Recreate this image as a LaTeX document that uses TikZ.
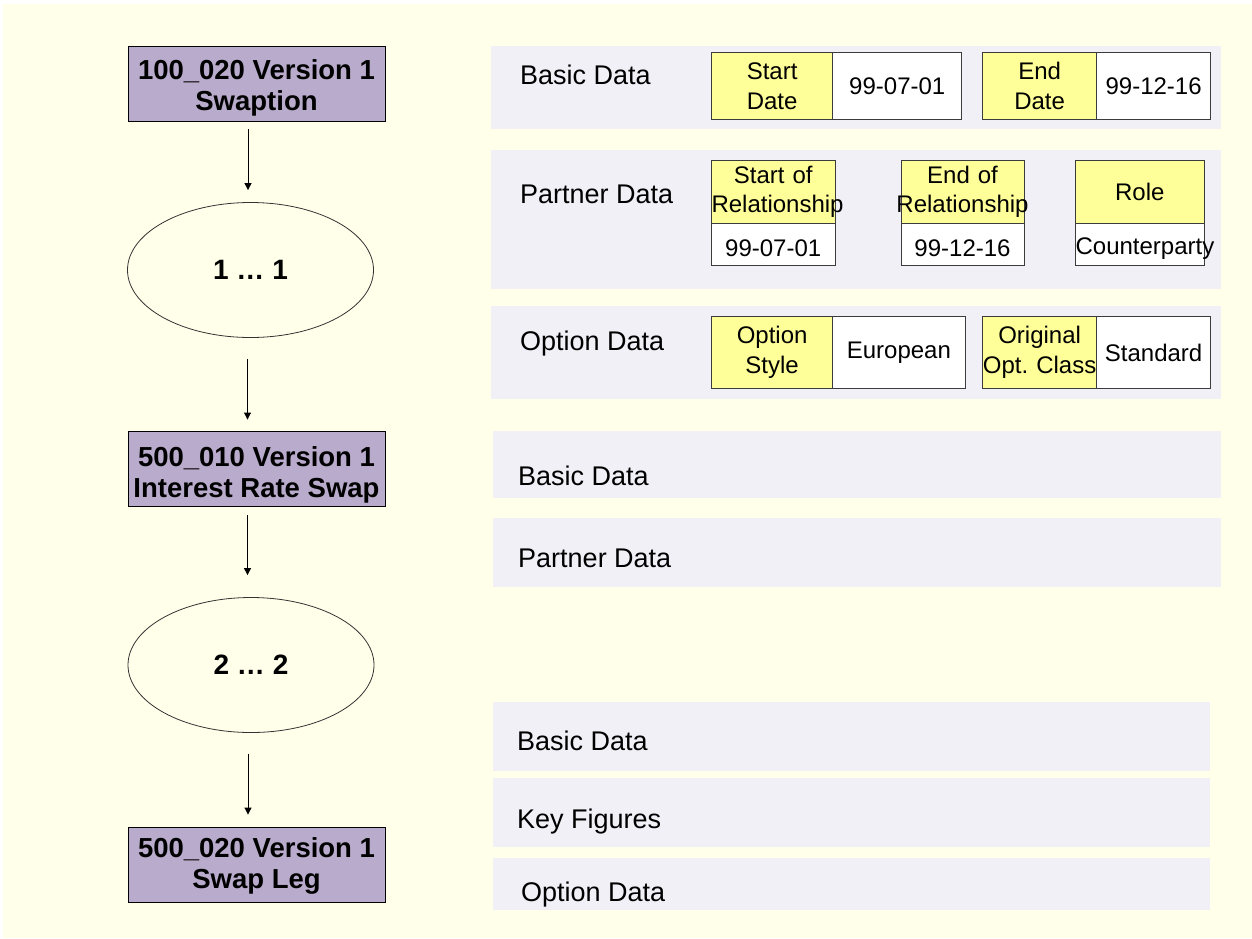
\documentclass[tikz,border=0pt]{standalone}
\usepackage{fontspec}
\setmainfont{Liberation Sans}
\usetikzlibrary{arrows.meta,shapes.geometric}
\definecolor{bgcream}{RGB}{255,255,234}
\definecolor{panelgray}{RGB}{242,240,247}
\definecolor{boxpurple}{RGB}{185,171,203}
\definecolor{cellyellow}{RGB}{255,255,153}
\definecolor{cellborder}{RGB}{60,60,60}
\newcommand{\downby}[1]{\rule{0pt}{\dimexpr 0.75em+#1\relax}}
\tikzset{
  objbox/.style={draw=black, line width=0.9pt, fill=boxpurple, minimum width=257pt, minimum height=75pt, inner sep=0pt, align=center, font=\fontsize{27.5}{31}\selectfont\bfseries},
  relnode/.style={ellipse, draw=black!80, line width=0.8pt, fill=bgcream, minimum width=246pt, minimum height=135pt, inner sep=0pt, font=\fontsize{28}{30}\selectfont\bfseries},
  flowarrow/.style={draw=black, line width=0.9pt, -{Triangle[length=7pt,width=7pt]}},
  panel/.style={fill=panelgray, draw=none},
  panellabel/.style={anchor=base west, inner sep=0pt, font=\fontsize{27}{30}\selectfont},
  ycell/.style={draw=cellborder, line width=0.9pt, fill=cellyellow, inner sep=0pt, align=center, font=\fontsize{24}{29.5}\selectfont},
  wcell/.style={draw=cellborder, line width=0.9pt, fill=white, inner sep=0pt, align=center, font=\fontsize{24}{29.5}\selectfont}
}
\begin{document}
\begin{tikzpicture}[x=1pt,y=-1pt]
\useasboundingbox (0,0) rectangle (1252,938);
\fill[white] (0,0) rectangle (1252,938);
\fill[bgcream] (3,4) rectangle (1252,938);

% left column
\node[objbox] (b1) at (256.5,83.5) {\downby{8pt}100\_020 Version 1\\Swaption};
\node[relnode] (e1) at (250.5,270) {1 … 1};
\node[objbox] (b2) at (256.5,468.5) {\downby{12pt}500\_010 Version 1\\Interest Rate Swap};
\node[relnode] (e2) at (251,665) {2 … 2};
\node[objbox] (b3) at (256.5,864.5) {\downby{3pt}500\_020 Version 1\\Swap Leg};

\draw[flowarrow, shorten <=8pt, shorten >=12pt] (b1.south -| 248,0) -- (e1.north -| 248,0);
\draw[flowarrow, shorten <=21pt, shorten >=11pt] (e1.south -| 247.5,0) -- (b2.north -| 247.5,0);
\draw[flowarrow, shorten <=9pt, shorten >=22pt] (b2.south -| 247.5,0) -- (e2.north -| 247.5,0);
\draw[flowarrow, shorten <=21pt, shorten >=12pt] (e2.south -| 248,0) -- (b3.north -| 248,0);

% right panels
\fill[panel] (491,46) rectangle (1221,129);
\fill[panel] (491,150) rectangle (1221,289);
\fill[panel] (491,306) rectangle (1221,399);
\fill[panel] (493,431) rectangle (1221,498);
\fill[panel] (493,518) rectangle (1221,587);
\fill[panel] (493,702) rectangle (1210,771);
\fill[panel] (493,778) rectangle (1210,847);
\fill[panel] (493,858) rectangle (1210,910);

\node[panellabel] (l1) at (520,84) {Basic Data};
\node[panellabel] (l2) at (520,203) {Partner Data};
\node[panellabel] (l3) at (520,350) {Option Data};
\node[panellabel] (l4) at (518,485) {Basic Data};
\node[panellabel] (l5) at (518,567) {Partner Data};
\node[panellabel] (l6) at (517,750) {Basic Data};
\node[panellabel] (l7) at (517,828) {Key Figures};
\node[panellabel] (l8) at (521,901) {Option Data};

% basic data cells
\node[ycell, text width=121.2pt, minimum height=66.6pt] (sd) at (772.1,86) {Start\\Date};
\node[wcell, text width=129.1pt, minimum height=66.6pt] (sdv) at (897.25,86) {99-07-01};
\node[ycell, text width=114.2pt, minimum height=66.6pt] (ed) at (1039.6,86) {End\\Date};
\node[wcell, text width=113.8pt, minimum height=66.6pt] (edv) at (1153.6,86) {99-12-16};

% partner data cells
\node[ycell, text width=123.5pt, minimum height=62.3pt] (sr) at (773.25,191.85) {Start of\\\makebox[\linewidth][l]{Relationship}};
\node[wcell, text width=123.5pt, minimum height=42pt] (srv) at (773.25,244) {\downby{8pt}99-07-01};
\node[ycell, text width=123pt, minimum height=62.3pt] (er) at (962.5,191.85) {End of\\\makebox[\linewidth]{Relationship}};
\node[wcell, text width=123pt, minimum height=42pt] (erv) at (962.5,244) {\downby{8pt}99-12-16};
\node[ycell, text width=128.4pt, minimum height=62.3pt] (ro) at (1139.8,191.85) {Role};
\node[wcell, text width=128.4pt, minimum height=42pt] (rov) at (1139.8,244) {\downby{8pt}\makebox[\linewidth][l]{Counterparty}};

% option data cells
\node[ycell, text width=121.2pt, minimum height=71.6pt] (os) at (772.1,352.5) {Option\\Style};
\node[wcell, text width=132.3pt, minimum height=71.6pt] (osv) at (898.85,352.5) {European};
\node[ycell, text width=114.2pt, minimum height=71.6pt] (oc) at (1039.6,352.5) {Original\\\makebox[\linewidth]{Opt.\ Class}};
\node[wcell, text width=113.8pt, minimum height=71.6pt] (ocv) at (1153.6,352.5) {Standard};
\end{tikzpicture}
\end{document}
